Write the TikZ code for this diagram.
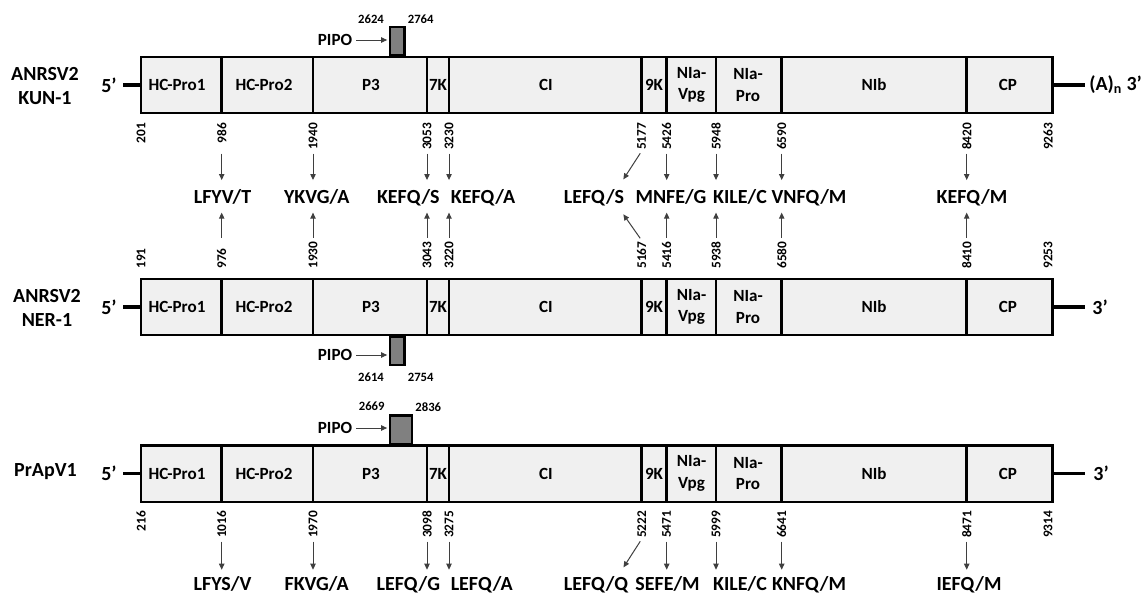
\documentclass[tikz,border=0pt]{standalone}
\usepackage{fontspec}
\setmainfont{Carlito}
\usepackage{tikz}
\usetikzlibrary{arrows.meta,positioning,calc}
\definecolor{PolyFill}{HTML}{F0F0F0}
\definecolor{PipoGray}{HTML}{808080}
\definecolor{CutLine}{HTML}{3F3F3F}

\begin{document}
\begin{tikzpicture}[x=0.75pt,y=-0.75pt,font=\bfseries,
  polyprot/.style={draw=black,fill=PolyFill,line width=2pt},
  seam/.style={line width=2pt},
  utr/.style={line width=2.6pt},
  pipobox/.style={draw=black,fill=PipoGray,line width=2pt,minimum height=21.5pt,inner sep=0pt},
  gene/.style={font=\fontsize{12.8}{16}\selectfont\bfseries,align=center,inner sep=0pt},
  isolate/.style={font=\fontsize{15}{17.5}\selectfont\bfseries,align=center,inner sep=0pt},
  ends/.style={font=\fontsize{15}{17}\selectfont\bfseries,inner sep=0pt},
  ntpos/.style={font=\fontsize{10}{11}\selectfont\bfseries,rotate=90,inner sep=0pt,text width=21pt},
  ntbelow/.style={ntpos,anchor=east,align=right},
  ntabove/.style={ntpos,anchor=west,align=left},
  pipopos/.style={font=\fontsize{9.5}{10}\selectfont\bfseries,inner sep=0pt},
  site/.style={font=\fontsize{15}{17}\selectfont\bfseries,inner sep=0pt,text height=10pt,text depth=0pt,anchor=base},
  cut/.style={draw=CutLine,line width=0.75pt,-{Triangle[length=4.5pt,width=4pt]},shorten <=2pt,shorten >=7pt},
  pipoarrow/.style={cut,shorten <=3pt,shorten >=1pt}]
  \useasboundingbox (0,0) rectangle (1144,594);

  % ANRSV2 KUN-1
  \node[isolate] (kun) at (45,86) {ANRSV2\\KUN-1};
  \node[ends] (kunleft) at (109,85) {5’};
  \draw[utr] (123,85) -- (141,85);
  \draw[utr] (1052.7,85) -- (1085,85);
  \node[ends,anchor=west] (kunright) at (1089,85) {(A)\textsubscript{n} 3’};
  \node[pipobox,minimum width=11pt,anchor=south west] (kunpipo) at (388.5,57) {};
  \filldraw[polyprot] (141,57) rectangle (1052.7,113);
  \foreach \x in {221.7,313,427,449,641.7,666.7,716,781.7,966.7}
    \draw[seam] (\x,57) -- (\x,113);
  \foreach \x/\t [count=\i] in {177/HC-Pro1,264/HC-Pro2,371/P3,438/7K,546/CI,654/9K,691.5/{NIa-\\Vpg},748/{NIa-\\Pro},874/NIb,1008/CP}
    \node[gene] (kungene\i) at (\x,85) {\t};
  \foreach \x/\n [count=\i] in {141/201,221.7/986,313/1940,427/3053,449/3230,641.7/5177,666.7/5426,716/5948,781.7/6590,966.7/8420,1048/9263}
    \node[ntbelow] (kun\i) at (\x,122.5) {\n};
  \node[gene] (kunpipolab) at (335,40) {PIPO};
  \draw[pipoarrow] (kunpipolab.east) -- (kunpipolab.east -| kunpipo.west);
  \node[pipopos] (kunpipoa) at (371,19.5) {2624};
  \node[pipopos] (kunpipob) at (420.7,19.5) {2764};

  % cleavage sites shared by KUN-1 and NER-1
  \node[site] (s1) at (222.5,203) {LFYV/T};
  \node[site] (s2) at (316.7,203) {YKVG/A};
  \node[site] (s3) at (408.3,203) {KEFQ/S};
  \node[site] (s4) at (483,203) {KEFQ/A};
  \node[site] (s5) at (594,203) {LEFQ/S};
  \node[site] (s6) at (671,203) {MNFE/G};
  \node[site] (s7) at (740,203) {KILE/C};
  \node[site] (s8) at (809,203) {VNFQ/M};
  \node[site] (s9) at (972,203) {KEFQ/M};

  \draw[cut] (kun2.west) -- (kun2.west |- s1.north);
  \draw[cut] (kun3.west) -- (kun3.west |- s2.north);
  \draw[cut] (kun4.west) -- (kun4.west |- s3.north);
  \draw[cut] (kun5.west) -- (kun5.west |- s4.north);
  \draw[cut,shorten >=0pt] (kun6.west) -- ([shift={(-1,-10)}]s5.north east);
  \draw[cut] (kun7.west) -- (kun7.west |- s6.north);
  \draw[cut] (kun8.west) -- (kun8.west |- s7.north);
  \draw[cut] (kun9.west) -- (kun9.west |- s8.north);
  \draw[cut] (kun10.west) -- (kun10.west |- s9.north);

  % ANRSV2 NER-1
  \node[isolate] (ner) at (47,308) {ANRSV2\\NER-1};
  \node[ends] (nerleft) at (109,307) {5’};
  \draw[utr] (123,307) -- (141,307);
  \draw[utr] (1052.7,307) -- (1085,307);
  \node[ends] (nerright) at (1100,307) {3’};
  \filldraw[polyprot] (141,279) rectangle (1052.7,335);
  \foreach \x in {221.7,313,427,449,641.7,666.7,716,781.7,966.7}
    \draw[seam] (\x,279) -- (\x,335);
  \node[pipobox,minimum width=11pt,anchor=north west] (nerpipo) at (388.5,335) {};
  \foreach \x/\t [count=\i] in {177/HC-Pro1,264/HC-Pro2,371/P3,438/7K,546/CI,654/9K,691.5/{NIa-\\Vpg},748/{NIa-\\Pro},874/NIb,1008/CP}
    \node[gene] (nergene\i) at (\x,307) {\t};
  \foreach \x/\n [count=\i] in {141/191,221.7/976,313/1930,427/3043,449/3220,641.7/5167,666.7/5416,716/5938,781.7/6580,966.7/8410,1048/9253}
    \node[ntabove] (ner\i) at (\x,269) {\n};
  \node[gene] (nerpipolab) at (335,355) {PIPO};
  \draw[pipoarrow] (nerpipolab.east) -- (nerpipolab.east -| nerpipo.west);
  \node[pipopos] (nerpipoa) at (371,377) {2614};
  \node[pipopos] (nerpipob) at (420.7,377) {2754};

  \draw[cut] (ner2.east) -- (ner2.east |- s1.south);
  \draw[cut] (ner3.east) -- (ner3.east |- s2.south);
  \draw[cut] (ner4.east) -- (ner4.east |- s3.south);
  \draw[cut] (ner5.east) -- (ner5.east |- s4.south);
  \draw[cut,shorten >=0pt] (ner6.east) -- ([shift={(-1,11)}]s5.south east);
  \draw[cut] (ner7.east) -- (ner7.east |- s6.south);
  \draw[cut] (ner8.east) -- (ner8.east |- s7.south);
  \draw[cut] (ner9.east) -- (ner9.east |- s8.south);
  \draw[cut] (ner10.east) -- (ner10.east |- s9.south);

  % PrApV1
  \node[isolate] (prap) at (45.5,472) {PrApV1};
  \node[ends] (prapleft) at (109,473.5) {5’};
  \draw[utr] (123,473.5) -- (141,473.5);
  \draw[utr] (1052.7,473.5) -- (1085,473.5);
  \node[ends] (prapright) at (1101,473.5) {3’};
  \node[pipobox,minimum width=16.5pt,anchor=south west] (prappipo) at (388.5,445.5) {};
  \filldraw[polyprot] (141,445.5) rectangle (1052.7,502);
  \foreach \x in {221.7,313,427,449,641.7,666.7,716,781.7,966.7}
    \draw[seam] (\x,445.5) -- (\x,502);
  \foreach \x/\t [count=\i] in {177/HC-Pro1,264/HC-Pro2,371/P3,438/7K,546/CI,654/9K,691.5/{NIa-\\Vpg},748/{NIa-\\Pro},874/NIb,1008/CP}
    \node[gene] (prapgene\i) at (\x,473.5) {\t};
  \foreach \x/\n [count=\i] in {141/216,221.7/1016,313/1970,427/3098,449/3275,641.7/5222,666.7/5471,716/5999,781.7/6641,966.7/8471,1048/9314}
    \node[ntbelow] (prap\i) at (\x,510.5) {\n};
  \node[gene] (prappipolab) at (335,428) {PIPO};
  \draw[pipoarrow] (prappipolab.east) -- (prappipolab.east -| prappipo.west);
  \node[pipopos] (prappipoa) at (371.7,406.7) {2669};
  \node[pipopos] (prappipob) at (428.3,406.7) {2836};

  \node[site] (t1) at (222.5,590) {LFYS/V};
  \node[site] (t2) at (316.7,590) {FKVG/A};
  \node[site] (t3) at (408.3,590) {LEFQ/G};
  \node[site] (t4) at (481.7,590) {LEFQ/A};
  \node[site] (t5) at (596,590) {LEFQ/Q};
  \node[site] (t6) at (667.5,590) {SEFE/M};
  \node[site] (t7) at (740,590) {KILE/C};
  \node[site] (t8) at (809,590) {KNFQ/M};
  \node[site] (t9) at (969,590) {IEFQ/M};

  \draw[cut,shorten >=5pt] (prap2.west) -- (prap2.west |- t1.north);
  \draw[cut,shorten >=5pt] (prap3.west) -- (prap3.west |- t2.north);
  \draw[cut,shorten >=5pt] (prap4.west) -- (prap4.west |- t3.north);
  \draw[cut,shorten >=5pt] (prap5.west) -- (prap5.west |- t4.north);
  \draw[cut,shorten >=0pt] (prap6.west) -- ([shift={(-5,-9)}]t5.north east);
  \draw[cut,shorten >=5pt] (prap7.west) -- (prap7.west |- t6.north);
  \draw[cut,shorten >=5pt] (prap8.west) -- (prap8.west |- t7.north);
  \draw[cut,shorten >=5pt] (prap9.west) -- (prap9.west |- t8.north);
  \draw[cut,shorten >=5pt] (prap10.west) -- (prap10.west |- t9.north);
\end{tikzpicture}
\end{document}
